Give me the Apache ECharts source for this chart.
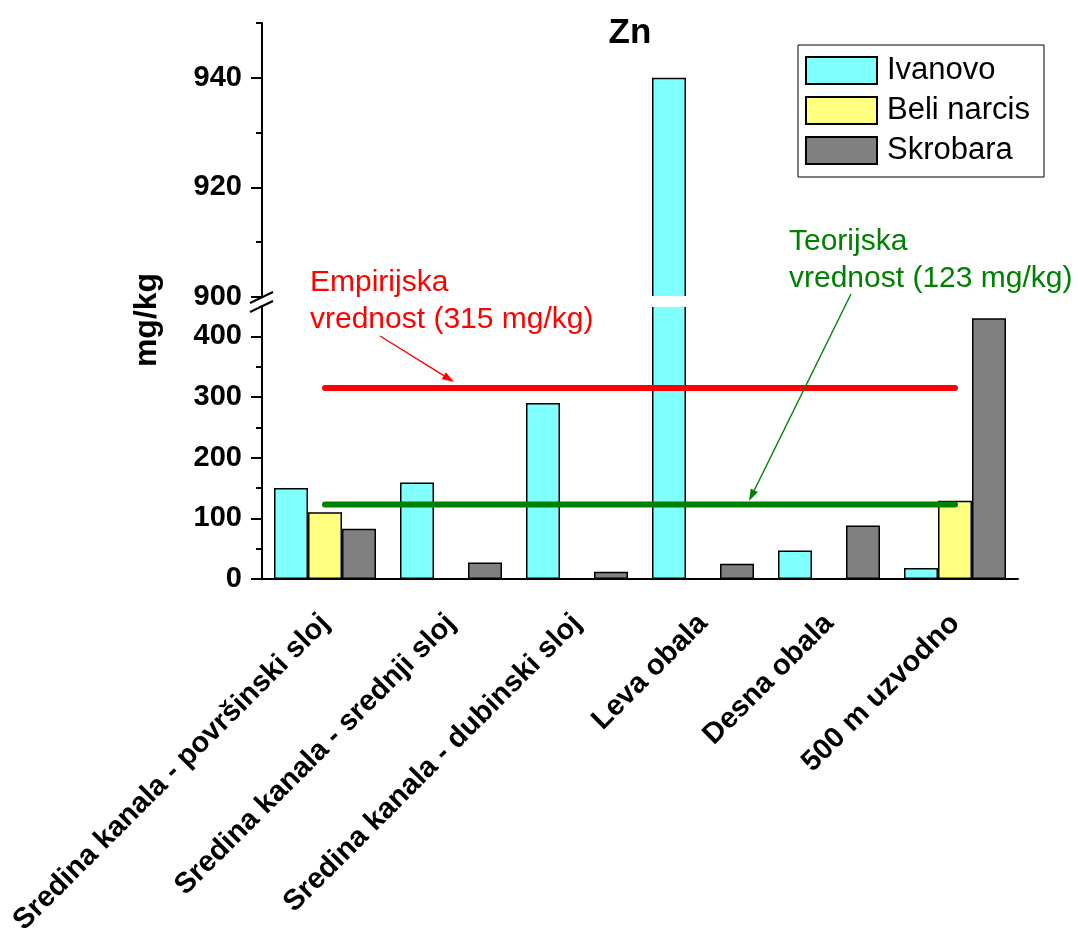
<!DOCTYPE html>
<html><head><meta charset="utf-8">
<script src="https://cdn.jsdelivr.net/npm/echarts@6/dist/echarts.min.js"></script>
<style>html,body{margin:0;padding:0;background:#fff}#c{width:1078px;height:931px}</style>
</head><body><div id="c"></div>
<script>
const categories = ['Sredina kanala - površinski sloj','Sredina kanala - srednji sloj','Sredina kanala - dubinski sloj','Leva obala','Desna obala','500 m uzvodno'];
const seriesNames = ['Ivanovo','Beli narcis','Skrobara'];
const ivanovo = [150,159,290,940,47,18];
const beliNarcis = [110,null,null,null,null,129];
const skrobara = [83,27,12,25,88,430];
const empiricalValue = 315;
const theoreticalValue = 123;
const lowerRange = [0,450];
const upperRange = [900,950];
const lowerMajorTicks = [0,100,200,300,400];
const lowerMinorTicks = [50,150,250,350];
const upperMajorTicks = [900,920,940];
const upperMinorTicks = [910,930,950];

const F = '"Liberation Sans", Arial, sans-serif';
const colors = ['#80ffff','#ffff80','#808080'];
const allData = [ivanovo, beliNarcis, skrobara];
const BAR_W = 34;

const chart = echarts.init(document.getElementById('c'), null, {renderer:'canvas'});

const series = [];
allData.forEach((d,i) => {
  series.push({type:'bar', name:seriesNames[i], xAxisIndex:1, yAxisIndex:1,
    data:d.map(v => v==null ? '-' : v), barWidth:BAR_W, barGap:'0%',
    itemStyle:{color:colors[i], borderColor:'#000', borderWidth:1.5}, z:2});
});
allData.forEach((d,i) => {
  series.push({type:'bar', name:seriesNames[i], xAxisIndex:0, yAxisIndex:0,
    data:d.map(v => (v!=null && v>=upperRange[0]) ? v : '-'), barWidth:BAR_W, barGap:'0%',
    itemStyle:{color:colors[i], borderColor:'#000', borderWidth:1.5}, z:2});
});
series.push({type:'line', name:'Empirijska', xAxisIndex:1, yAxisIndex:1,
  data:categories.map(() => empiricalValue), symbol:'none', silent:true,
  lineStyle:{color:'#ff0000', width:6, cap:'round'}, z:5});
series.push({type:'line', name:'Teorijska', xAxisIndex:1, yAxisIndex:1,
  data:categories.map(() => theoreticalValue), symbol:'none', silent:true,
  lineStyle:{color:'#008000', width:6, cap:'round'}, z:5});

const axLine = {lineStyle:{color:'#000', width:2}};
const labelStyle = {color:'#000', fontFamily:F, fontWeight:'bold', fontSize:29, margin:20};

const option = {
  animation:false,
  backgroundColor:'#fff',
  grid:[
    {left:262, right:60, top:23, height:274, containLabel:false, outerBoundsMode:'none'},
    {left:262, right:60, top:306, height:273, containLabel:false, outerBoundsMode:'none'}
  ],
  xAxis:[
    {gridIndex:0, type:'category', data:categories, show:false},
    {gridIndex:1, type:'category', data:categories, position:'bottom',
      axisLine:axLine, axisTick:{alignWithLabel:true, length:11, lineStyle:{color:'#000', width:2}},
      axisLabel:{interval:0, rotate:45, margin:40, color:'#000', fontFamily:F, fontWeight:'bold', fontSize:29}},
    {gridIndex:1, type:'category', data:categories, position:'bottom',
      axisLine:{show:false}, axisTick:{length:6, lineStyle:{color:'#000', width:2}}, axisLabel:{show:false}}
  ],
  yAxis:[
    {gridIndex:0, type:'value', min:upperRange[0], max:upperRange[1], position:'left',
      axisLine:{show:true, lineStyle:{color:'#000', width:2}}, splitLine:{show:false},
      axisTick:{show:true, customValues:upperMajorTicks, length:11, lineStyle:{color:'#000', width:2}},
      axisLabel:Object.assign({customValues:upperMajorTicks}, labelStyle)},
    {gridIndex:1, type:'value', min:lowerRange[0], max:lowerRange[1], position:'left',
      axisLine:{show:true, lineStyle:{color:'#000', width:2}}, splitLine:{show:false},
      axisTick:{show:true, customValues:lowerMajorTicks, length:11, lineStyle:{color:'#000', width:2}},
      axisLabel:Object.assign({customValues:lowerMajorTicks}, labelStyle)},
    {gridIndex:0, type:'value', min:upperRange[0], max:upperRange[1], position:'left',
      axisLine:{show:false}, splitLine:{show:false}, axisLabel:{show:false},
      axisTick:{show:true, customValues:upperMinorTicks, length:6, lineStyle:{color:'#000', width:2}}},
    {gridIndex:1, type:'value', min:lowerRange[0], max:lowerRange[1], position:'left',
      axisLine:{show:false}, splitLine:{show:false}, axisLabel:{show:false},
      axisTick:{show:true, customValues:lowerMinorTicks, length:6, lineStyle:{color:'#000', width:2}}}
  ],
  legend:{data:seriesNames, orient:'vertical', left:798, top:45, icon:'rect',
    itemWidth:71, itemHeight:27, itemGap:9, padding:[10,14,11,7],
    borderColor:'#000', borderWidth:1, backgroundColor:'#fff',
    textStyle:{fontSize:31, fontFamily:F, color:'#000', lineHeight:31, padding:[0,0,0,5]}},
  series:series
};
chart.setOption(option);

function arrow(x1,y1,x2,y2,color){
  const a = Math.atan2(y2-y1, x2-x1), L = 12, W = 4;
  const bx = x2 - L*Math.cos(a), by = y2 - L*Math.sin(a);
  const px = -Math.sin(a)*W, py = Math.cos(a)*W;
  return [
    {type:'line', shape:{x1:x1,y1:y1,x2:bx,y2:by}, style:{stroke:color, lineWidth:1.4}, z:10},
    {type:'polygon', shape:{points:[[x2,y2],[bx+px,by+py],[bx-px,by-py]]}, style:{fill:color}, z:10}
  ];
}
const upperBottom = chart.convertToPixel({yAxisIndex:0}, upperRange[0]);
const lowerTop = chart.convertToPixel({yAxisIndex:1}, lowerRange[1]);
const gx = chart.convertToPixel({xAxisIndex:1}, 0) - (chart.convertToPixel({xAxisIndex:1}, 1) - chart.convertToPixel({xAxisIndex:1}, 0)) / 2;
const annFont = '30px "Liberation Sans", Arial, sans-serif';
const txt = (t,x,y,color,font,align) => ({type:'text', x:x, y:y, z:10,
  style:{text:t, fill:color, font:font, align:align||'left', verticalAlign:'middle'}});
const graphic = [
  txt('Zn', 630, 33, '#000', 'bold 35px "Liberation Sans", Arial, sans-serif', 'center'),
  {type:'text', x:147, y:320, rotation:Math.PI/2, z:10,
    style:{text:'mg/kg', fill:'#000', font:'bold 32px "Liberation Sans", Arial, sans-serif', align:'center', verticalAlign:'middle'}},
  txt('Empirijska', 310, 283, '#ff0000', annFont),
  txt('vrednost (315 mg/kg)', 310, 320, '#ff0000', annFont),
  txt('Teorijska', 789, 242, '#008000', annFont),
  txt('vrednost (123 mg/kg)', 789, 279, '#008000', annFont),
  {type:'line', shape:{x1:gx-12, y1:upperBottom+6, x2:gx+11, y2:upperBottom-5}, style:{stroke:'#000', lineWidth:2}, z:10},
  {type:'line', shape:{x1:gx-12, y1:lowerTop+6, x2:gx+11, y2:lowerTop-5}, style:{stroke:'#000', lineWidth:2}, z:10}
].concat(arrow(380,336,454,382,'#ff0000'), arrow(851,294,749,501,'#008000'));
// white gap across bars that continue through the axis break
ivanovo.forEach((v,i) => {
  if (v > lowerRange[1]) {
    const cx = chart.convertToPixel({xAxisIndex:1}, i);
    const left = cx - 1.5*BAR_W;
    graphic.push({type:'rect', shape:{x:left-2, y:upperBottom-1, width:BAR_W+4, height:lowerTop-upperBottom+2},
      style:{fill:'#fff'}, z:9});
  }
});
chart.setOption({graphic:graphic});
</script>
</body></html>
